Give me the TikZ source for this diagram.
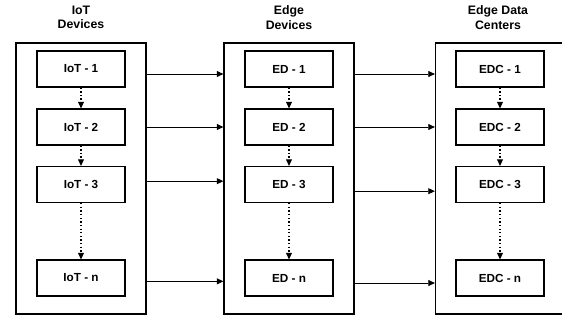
\documentclass[tikz,border=0pt]{standalone}
\usepackage{fontspec}
\setmainfont{Liberation Sans}
\usetikzlibrary{arrows.meta}

\begin{document}
\begin{tikzpicture}[
    group/.style={rectangle, draw, line width=1pt, minimum width=3.9cm, minimum height=8.13cm},
    box/.style={rectangle, draw, line width=1pt, minimum width=2.64cm, minimum height=1.08cm, align=center, font=\bfseries\fontsize{10}{12}\selectfont},
    head/.style={align=center, font=\bfseries\fontsize{10.5}{12.5}\selectfont},
    arrow/.style={-{Triangle[length=2mm, width=1.8mm]}, line width=0.8pt},
    dotarrow/.style={-{Triangle[length=2mm, width=1.8mm]}, line width=1.1pt, dotted}
  ]
    \useasboundingbox (0, 0) rectangle (16.86, -9.6);

    \node[head] at (2.43, -0.525)   (hiot)  {IoT\\Devices};
    \node[head] at (8.67, -0.525)   (hed)   {Edge\\Devices};
    \node[head] at (14.94, -0.525)  (hedc)  {Edge Data\\Centers};

    \node[group] at (2.43, -5.355)  (iotgrp) {};
    \node[group] at (8.67, -5.355)  (edgrp)  {};
    \node[group] at (15.015, -5.355) (edcgrp) {};

    \node[box] at (2.43, -2.07)   (iot1) {IoT - 1};
    \node[box] at (2.43, -3.81)   (iot2) {IoT - 2};
    \node[box] at (2.43, -5.535)  (iot3) {IoT - 3};
    \node[box] at (2.43, -8.34)   (iotn) {IoT - n};

    \node[box] at (8.67, -2.07)   (ed1) {ED - 1};
    \node[box] at (8.67, -3.81)   (ed2) {ED - 2};
    \node[box] at (8.67, -5.535)  (ed3) {ED - 3};
    \node[box] at (8.67, -8.34)   (edn) {ED - n};

    \node[box] at (15.0, -2.07)   (edc1) {EDC - 1};
    \node[box] at (15.0, -3.81)   (edc2) {EDC - 2};
    \node[box] at (15.0, -5.535)  (edc3) {EDC - 3};
    \node[box] at (15.0, -8.34)   (edcn) {EDC - n};

    % within each group
    \draw[dotarrow] (iot1) -- (iot2);
    \draw[dotarrow] (iot2) -- (iot3);
    \draw[dotarrow] (iot3) -- (iotn);
    \draw[dotarrow] (ed1) -- (ed2);
    \draw[dotarrow] (ed2) -- (ed3);
    \draw[dotarrow] (ed3) -- (edn);
    \draw[dotarrow] (edc1) -- (edc2);
    \draw[dotarrow] (edc2) -- (edc3);
    \draw[dotarrow] (edc3) -- (edcn);

    % between groups
    \draw[arrow] ([yshift=-0.15cm]iotgrp.east |- iot1) -- ([yshift=-0.15cm]edgrp.west |- iot1);
    \draw[arrow] (iotgrp.east |- iot2) -- (edgrp.west |- iot2);
    \draw[arrow] ([yshift=0.1cm]iotgrp.east |- iot3) -- ([yshift=0.1cm]edgrp.west |- iot3);
    \draw[arrow] ([yshift=-0.1cm]iotgrp.east |- iotn) -- ([yshift=-0.1cm]edgrp.west |- iotn);

    \draw[arrow] ([yshift=-0.15cm]edgrp.east |- ed1) -- ([yshift=-0.15cm]edcgrp.west |- ed1);
    \draw[arrow] (edgrp.east |- ed2) -- (edcgrp.west |- ed2);
    \draw[arrow] ([yshift=-0.2cm]edgrp.east |- ed3) -- ([yshift=-0.2cm]edcgrp.west |- ed3);
    \draw[arrow] ([yshift=-0.15cm]edgrp.east |- edn) -- ([yshift=-0.15cm]edcgrp.west |- edn);
  \end{tikzpicture}
\end{document}
